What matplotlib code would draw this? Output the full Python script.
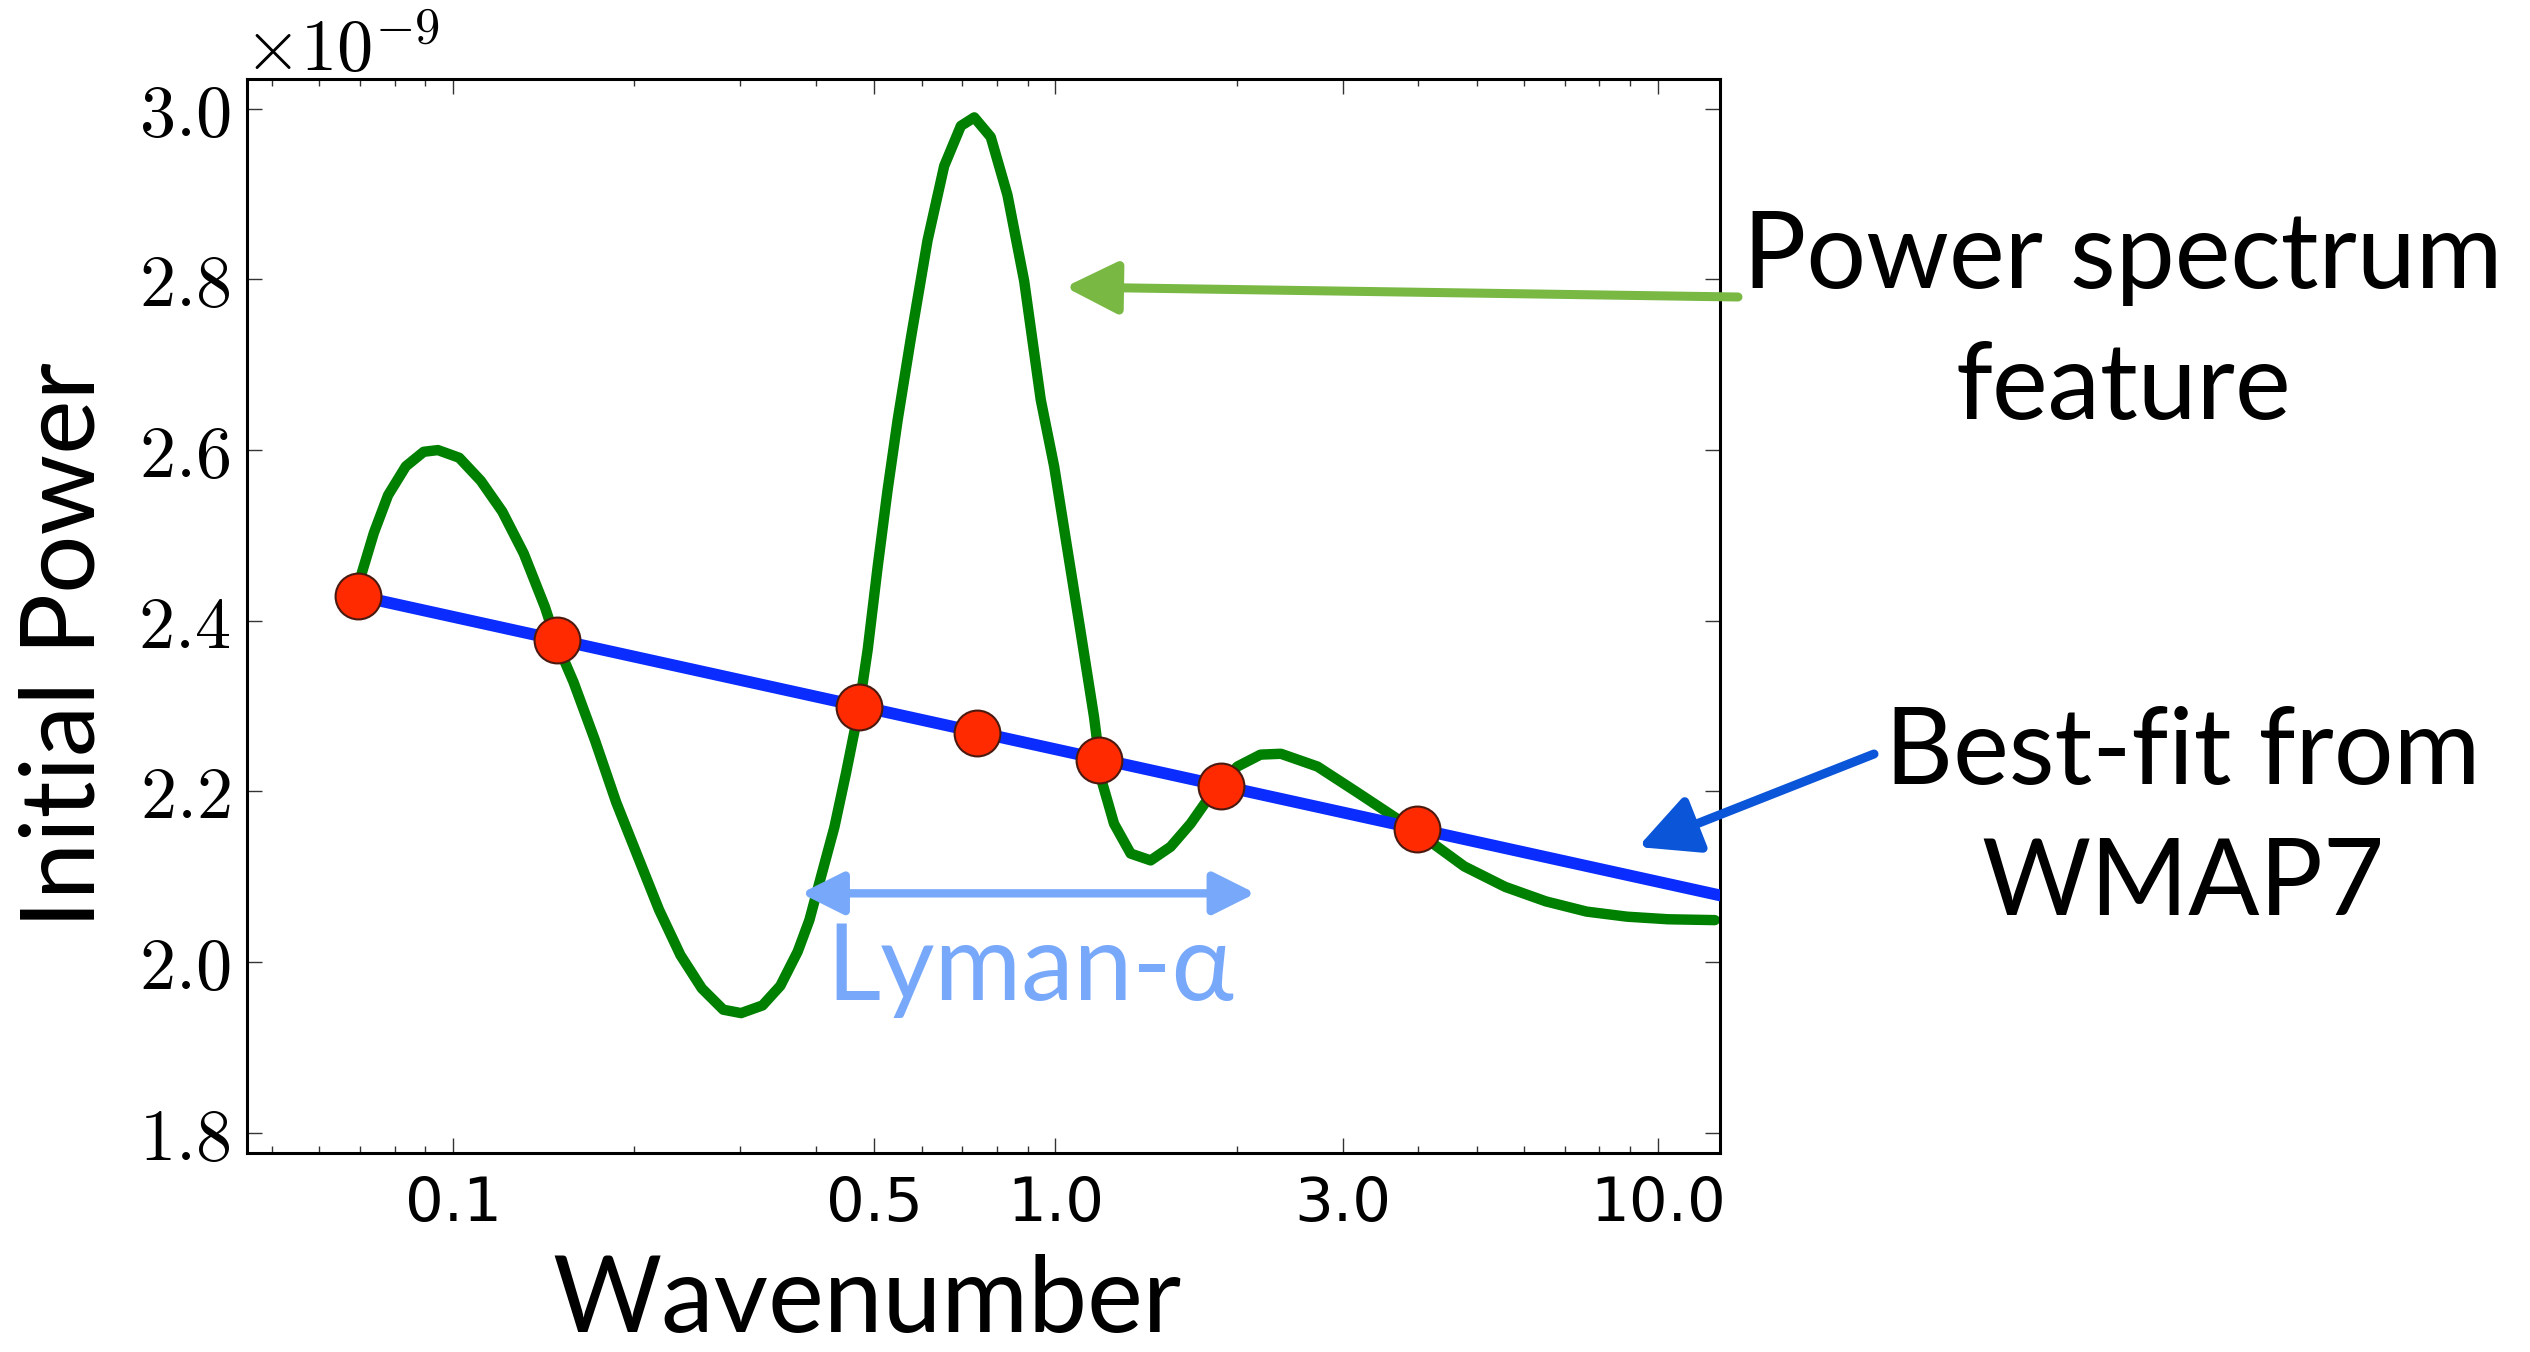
import matplotlib
matplotlib.use("Agg")
import matplotlib.pyplot as plt
from matplotlib.patches import FancyArrowPatch
from matplotlib.ticker import FixedLocator, FixedFormatter, LogLocator, NullFormatter

# data (power in units of 1e-9)
green_k = [0.0696, 0.0705, 0.0739, 0.0780, 0.0835, 0.0894, 0.0944, 0.1024, 0.1112, 0.1207,
           0.1310, 0.1421, 0.1486, 0.1585, 0.1720, 0.1866, 0.2025, 0.2198, 0.2385, 0.2588,
           0.2809, 0.3007, 0.3264, 0.3494, 0.3733, 0.3904, 0.4082, 0.4296, 0.4490, 0.4714,
           0.4879, 0.5068, 0.5264, 0.5470, 0.5754, 0.6134, 0.6536, 0.6966, 0.7332, 0.7809,
           0.8324, 0.8874, 0.9453, 0.9950, 1.047, 1.102, 1.159, 1.197, 1.251, 1.333,
           1.439, 1.553, 1.676, 1.787, 2.004, 2.190, 2.367, 2.723, 3.181, 3.990,
           4.771, 5.577, 6.516, 7.614, 8.897, 10.40, 12.43]
green_p = [2.429, 2.455, 2.503, 2.547, 2.581, 2.598, 2.600, 2.591, 2.564, 2.528,
           2.479, 2.416, 2.374, 2.328, 2.260, 2.187, 2.124, 2.061, 2.008, 1.969,
           1.944, 1.940, 1.949, 1.972, 2.012, 2.049, 2.100, 2.158, 2.221, 2.295,
           2.366, 2.463, 2.553, 2.635, 2.731, 2.846, 2.933, 2.980, 2.990, 2.967,
           2.899, 2.798, 2.659, 2.581, 2.483, 2.385, 2.287, 2.209, 2.162, 2.127,
           2.119, 2.135, 2.162, 2.190, 2.229, 2.243, 2.244, 2.229, 2.198, 2.152,
           2.112, 2.088, 2.071, 2.059, 2.053, 2.050, 2.049]

blue_k = [0.0696, 12.68]
blue_p = [2.429, 2.078]

red_k = [0.0696, 0.1486, 0.4714, 0.742, 1.182, 1.882, 3.990]
red_p = [2.429, 2.377, 2.299, 2.268, 2.237, 2.206, 2.156]

xticks = [0.1, 0.5, 1.0, 3.0, 10.0]
xtick_labels = ["0.1", "0.5", "1.0", "3.0", "10.0"]
yticks = [1.8, 2.0, 2.2, 2.4, 2.6, 2.8, 3.0]
ytick_labels = ["1.8", "2.0", "2.2", "2.4", "2.6", "2.8", "3.0"]

lyman_range = (0.378, 2.149)
lyman_level = 2.0804

plt.rcParams["mathtext.fontset"] = "cm"
big_font = ["Lato", "DejaVu Sans"]

W, H = 2530, 1352
fig = plt.figure(figsize=(W / 100, H / 100), dpi=100)
ax = fig.add_axes([247 / W, 1 - 1153 / H, (1720 - 247) / W, (1153 - 79) / H])

ax.plot(green_k, green_p, color="#008000", lw=7.5, solid_joinstyle="round",
        solid_capstyle="round", zorder=2)
ax.plot(blue_k, blue_p, color="#0a2cff", lw=8.5, zorder=3)
ax.plot(red_k, red_p, "o", ms=33, mfc="#ff2a00", mec="#4a1a10", mew=1.5, zorder=4)

ax.set_xscale("log")
ax.set_xlim(0.0455, 12.68)
ax.set_ylim(1.776, 3.035)

ax.xaxis.set_major_locator(FixedLocator(xticks))
ax.xaxis.set_major_formatter(FixedFormatter(xtick_labels))
ax.xaxis.set_minor_locator(LogLocator(base=10, subs=range(2, 10), numticks=30))
ax.xaxis.set_minor_formatter(NullFormatter())
ax.yaxis.set_major_locator(FixedLocator(yticks))
ax.yaxis.set_major_formatter(FixedFormatter(["$" + s + "$" for s in ytick_labels]))

ax.tick_params(which="both", direction="in", top=True, right=True, width=1.0, color="#333333")
ax.tick_params(which="major", length=10.8)
ax.tick_params(which="minor", length=5)
ax.tick_params(axis="x", which="major", labelsize=44, pad=16)
ax.tick_params(axis="y", labelsize=52, pad=12)
for sp in ax.spines.values():
    sp.set_linewidth(2.2)

ax.text(-0.002, 1.007, r"$\times10^{-9}$", transform=ax.transAxes,
        ha="left", va="baseline", fontsize=52)

# axis titles
fig.text(66 / W, 1 - 645 / H, "Initial Power", rotation=90, ha="center", va="center",
         fontsize=74, family=big_font)
fig.text(867 / W, 0.015, "Wavenumber", ha="center", va="baseline",
         fontsize=76, family=big_font)

# annotations (va='baseline' pins the last line here)
fig.text(2123 / W, 1 - 419 / H, "Power spectrum\nfeature", ha="center", va="baseline",
         fontsize=76, family=big_font, linespacing=1.45)
fig.text(2183 / W, 1 - 915 / H, "Best-fit from\nWMAP7", ha="center", va="baseline",
         fontsize=76, family=big_font, linespacing=1.45)

green_arrow = FancyArrowPatch((1738 / W, 1 - 297 / H), (1065 / W, 1 - 287 / H),
                              arrowstyle="-|>,head_length=0.8,head_width=0.4",
                              mutation_scale=40, color="#78b843", lw=6.5,
                              shrinkA=0, shrinkB=0, transform=fig.transFigure)
fig.add_artist(green_arrow)

blue_arrow = FancyArrowPatch((1874 / W, 1 - 754 / H), (1638 / W, 1 - 847 / H),
                             arrowstyle="-|>,head_length=0.9,head_width=0.45",
                             mutation_scale=40, color="#0a55d8", lw=6.5,
                             shrinkA=0, shrinkB=0, transform=fig.transFigure)
fig.add_artist(blue_arrow)

lyman_arrow = FancyArrowPatch((lyman_range[0], lyman_level), (lyman_range[1], lyman_level),
                              arrowstyle="<|-|>,head_length=0.8,head_width=0.4",
                              mutation_scale=32, color="#78a8fa", lw=6,
                              shrinkA=0, shrinkB=0, zorder=5)
ax.add_patch(lyman_arrow)
fig.text(1030 / W, 1 - 1000 / H, "Lyman-α", ha="center", va="baseline",
         fontsize=76, family=big_font, color="#78a8fa")

fig.savefig("out.png", dpi=100)
